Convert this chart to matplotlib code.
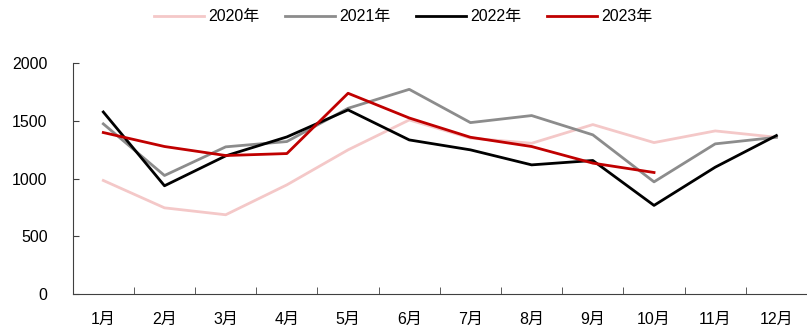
import numpy as np
import matplotlib.pyplot as plt

plt.rcParams['font.family'] = ['Liberation Sans', 'Noto Sans CJK SC']

months = ['1月', '2月', '3月', '4月', '5月', '6月', '7月', '8月', '9月', '10月', '11月', '12月']
y2020 = [983, 746, 686, 945, 1248, 1507, 1350, 1305, 1467, 1311, 1412, 1357]
y2021 = [1473, 1026, 1274, 1320, 1608, 1772, 1484, 1545, 1378, 971, 1300, 1357]
y2022 = [1576, 937, 1196, 1360, 1594, 1334, 1248, 1118, 1156, 767, 1098, 1372]
y2023 = [1398, 1277, 1199, 1216, 1738, 1524, 1357, 1277, 1133, 1052]

series = [
    ('2020年', y2020, '#F4C8C8'),
    ('2021年', y2021, '#8C8C8C'),
    ('2022年', y2022, '#000000'),
    ('2023年', y2023, '#C00000'),
]

fig = plt.figure(figsize=(8.07, 3.26), dpi=100)
ax = fig.add_axes([0.0901, 0.0982, 0.9099, 0.7085])

x = np.arange(len(months))
for name, vals, color in series:
    ax.plot(x[:len(vals)], vals, color=color, lw=2, label=name)

ax.set_xlim(-0.5, len(months) - 0.5)
ax.set_ylim(0, 2000)
ax.set_yticks([0, 500, 1000, 1500, 2000])
ax.set_xticks(x)
ax.set_xticklabels(months)
ax.set_xticks(np.arange(-0.5, len(months)), minor=True)
ax.tick_params(axis='x', which='major', length=0, pad=13, labelsize=11.5)
ax.tick_params(axis='x', which='minor', direction='in', length=5, color='#404040')
ax.tick_params(axis='y', direction='in', length=4, color='#404040', pad=18, labelsize=11.5)

for s in ['top', 'right']:
    ax.spines[s].set_visible(False)
for s in ['left', 'bottom']:
    ax.spines[s].set_color('#404040')

fig.legend(loc='upper center', bbox_to_anchor=(0.5, 1.015), ncol=4, frameon=False,
           fontsize=11.5, handlelength=3.1, columnspacing=1.6, handletextpad=0.3)

fig.savefig('out.png', dpi=100)
